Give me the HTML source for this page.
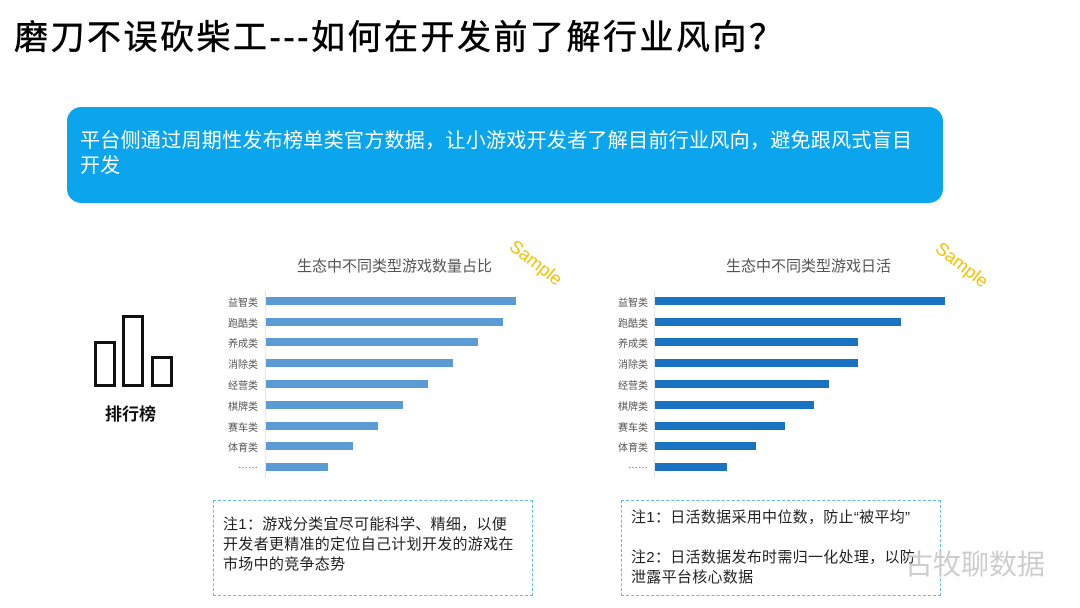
<!DOCTYPE html><html><head><meta charset="utf-8"><style>
body{margin:0;width:1080px;height:608px;background:#fff;position:relative;overflow:hidden;font-family:"Liberation Sans","Noto Sans CJK SC",sans-serif}
.a{position:absolute}
.bar{position:absolute;height:8px}
.l{position:absolute;font-size:10px;color:#555;text-align:right;width:50px}
.note{position:absolute;border:1.5px dashed #5bc0de;font-size:15px;color:#222;line-height:20px;box-sizing:border-box;padding:14px 9px;letter-spacing:0.3px;white-space:nowrap}
</style></head><body>
<div class="a" style="left:14px;top:10px;font-size:34px;letter-spacing:2.5px;font-weight:normal;color:#000;white-space:nowrap;-webkit-text-stroke:0.5px #000">磨刀不误砍柴工---如何在开发前了解行业风向？</div>
<div class="a" style="left:67px;top:107px;width:876px;height:96px;background:#0aa5ec;border-radius:14px"></div>
<div class="a" style="left:80px;top:129px;width:860px;font-size:20px;line-height:25px;letter-spacing:0.3px;color:#fff;white-space:nowrap">平台侧通过周期性发布榜单类官方数据，让小游戏开发者了解目前行业风向，避免跟风式盲目<br>开发</div>
<div class="a" style="left:94px;top:341px;width:16px;height:40px;border:3px solid #111"></div>
<div class="a" style="left:122px;top:315px;width:16px;height:66px;border:3px solid #111"></div>
<div class="a" style="left:151px;top:356px;width:16px;height:25px;border:3px solid #111"></div>
<div class="a" style="left:105px;top:400px;font-size:17px;font-weight:bold;color:#111">排行榜</div>
<div class="a" style="left:297px;top:255px;font-size:15px;color:#555">生态中不同类型游戏数量占比</div>
<div class="a" style="left:518px;top:236px;font-size:18px;color:#f5c000;transform:rotate(38deg);transform-origin:left top">Sample</div>
<div class="a" style="left:726px;top:255px;font-size:15px;color:#555">生态中不同类型游戏日活</div>
<div class="a" style="left:944px;top:238px;font-size:18px;color:#f5c000;transform:rotate(38deg);transform-origin:left top">Sample</div>
<div class="a" style="left:265px;top:290px;width:1px;height:188px;background:#e6e6e6"></div>
<div class="a" style="left:654px;top:290px;width:1px;height:188px;background:#e6e6e6"></div>
<div id="c"></div>
<div class="note" style="left:213px;top:500px;width:320px;height:96px">注1：游戏分类宜尽可能科学、精细，以便<br>开发者更精准的定位自己计划开发的游戏在<br>市场中的竞争态势</div>
<div class="note" style="left:621px;top:500px;width:320px;height:96px;padding-top:7px">注1：日活数据采用中位数，防止“被平均”<br><br>注2：日活数据发布时需归一化处理，以防<br>泄露平台核心数据</div>
<div class="a" style="left:905px;top:543px;font-size:28px;color:#c8c8c8;opacity:.9">古牧聊数据</div>
<script>
var labs=["益智类","跑酷类","养成类","消除类","经营类","棋牌类","赛车类","体育类","……"];
var ys=[301,322,342,363,384,405,426,446,467];
var e1=[516,503,478,453,428,403,378,353,328],e2=[945,901,858,858,829,814,785,756,727];
var h="";
for(var i=0;i<9;i++){
h+='<div class="l" style="left:208px;top:'+(ys[i]-7)+'px">'+labs[i]+'</div>';
h+='<div class="bar" style="background:#5b9bd5;left:266px;top:'+(ys[i]-4)+'px;width:'+(e1[i]-266)+'px"></div>';
h+='<div class="l" style="left:598px;top:'+(ys[i]-7)+'px">'+labs[i]+'</div>';
h+='<div class="bar" style="background:#1a73c2;left:655px;top:'+(ys[i]-4)+'px;width:'+(e2[i]-655)+'px"></div>';}
document.getElementById("c").innerHTML=h;
</script>
</body></html>
